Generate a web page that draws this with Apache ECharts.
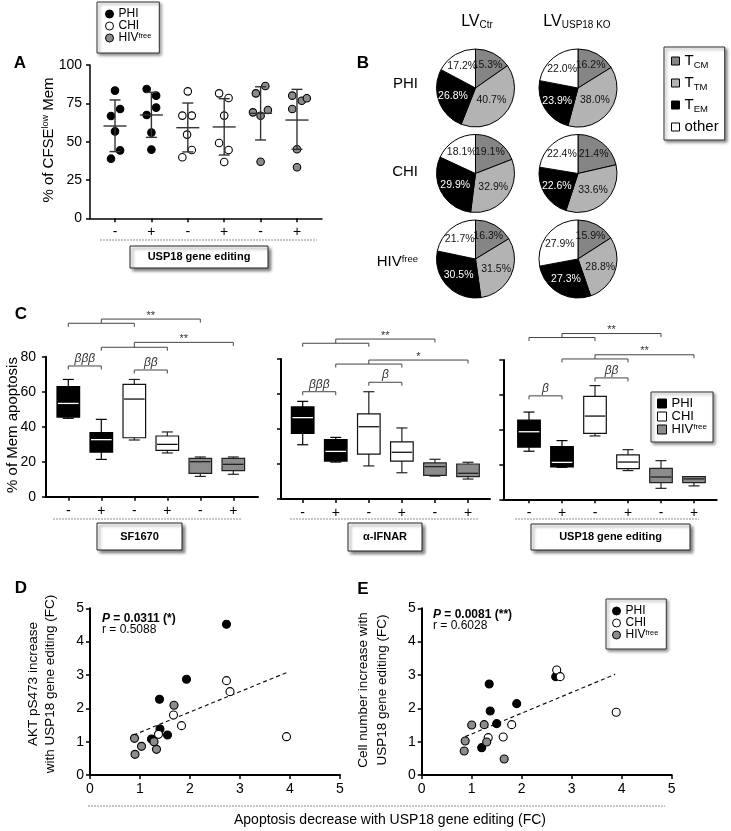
<!DOCTYPE html>
<html><head><meta charset="utf-8">
<script src="https://cdn.jsdelivr.net/npm/echarts@6/dist/echarts.min.js"></script>
<style>html,body{margin:0;padding:0;background:#fff}#c{width:731px;height:831px}</style>
</head><body><div id="c"></div>
<script>
// ================= DATA =================
const conditionLabels = ['-', '+', '-', '+', '-', '+'];
const conditionTicks = [1, 2, 3, 4, 5, 6];

// Panel A: % of CFSE-low memory cells  [condition position (with jitter), %]
const aPHI = [[1.0,83.3],[1.14,71.3],[0.89,66.7],[1.0,56.7],[1.14,44.3],[0.89,38.9],
              [1.87,84.3],[2.13,80.0],[2.13,72.2],[1.87,67.4],[2.0,55.9],[2.0,44.8]];
const aCHI = [[3.0,82.8],[2.85,67.0],[3.11,67.0],[2.98,54.6],[3.11,44.6],[2.85,39.8],
              [3.86,81.5],[4.12,78.5],[4.0,67.0],[3.86,49.1],[4.12,44.6],[4.0,36.7]];
const aHIV = [[5.13,86.3],[4.87,81.5],[4.79,69.1],[5.2,70.6],[5.0,66.9],[5.0,36.9],
              [5.87,80.0],[6.13,76.7],[6.27,78.3],[5.87,71.3],[6.0,45.0],[6.0,33.3]];
const aMean   = [60.2, 67.4, 59.1, 59.6, 68.5, 64.1];
const aSdLow  = [43.5, 52.8, 43.3, 41.3, 51.1, 45.0];
const aSdHigh = [77.2, 82.2, 75.2, 78.0, 85.8, 84.1];

// Panel B: memory subsets (%)  order: TCM, TTM, TEM, other
const subsets = ['TCM', 'TTM', 'TEM', 'other'];
const pieCtrPHI = [15.3, 40.7, 26.8, 17.2];
const pieKoPHI  = [16.2, 38.0, 23.9, 22.0];
const pieCtrCHI = [19.1, 32.9, 29.9, 18.1];
const pieKoCHI  = [21.4, 33.6, 22.6, 22.4];
const pieCtrHIV = [16.3, 31.5, 30.5, 21.7];
const pieKoHIV  = [15.9, 28.8, 27.3, 27.9];

// Panel C: % of Mem apoptosis, boxes [min, Q1, median, Q3, max] for conditions 1..6
const cSF1670 = [[44.8,45.5,53.3,62.9,67.0],[21.3,25.5,32.6,36.6,44.2],
                 [32.4,33.7,55.8,64.2,67.0],[25.0,26.5,29.9,34.7,37.0],
                 [11.6,13.3,20.0,21.9,22.7],[12.8,14.9,18.5,21.9,22.7]];
const cIFNAR  = [[31.0,37.5,46.5,52.6,55.8],[21.1,21.7,27.2,33.9,35.2],
                 [18.9,25.7,41.3,48.6,61.3],[15.0,21.7,26.7,32.6,40.6],
                 [13.1,13.5,18.5,20.6,22.7],[11.4,12.8,14.7,20.0,21.0]];
const cUSP18  = [[27.6,30.0,38.8,45.5,50.1],[18.4,18.6,21.2,30.2,33.7],
                 [36.4,37.9,47.8,59.1,65.3],[16.5,17.6,21.4,25.5,28.5],
                 [6.3,9.6,12.8,17.8,22.2],[7.7,9.6,11.7,13.0,13.0]];
// significance brackets: [fromCond, toCond, farCond|null, level, upperLevel|null, label]
const sigSF1670 = [[1,3,5,99.1,101.5,'**'],[2,4,6,85.4,88.2,'**'],[1,2,null,74.7,null,'βββ'],[3,4,null,72.4,null,'ββ']];
const sigIFNAR  = [[1,3,5,89.0,91.4,'**'],[2,4,6,77.1,79.4,'*'],[1,2,null,61.3,null,'βββ'],[3,4,null,66.7,null,'β']];
const sigUSP18  = [[1,3,5,92.9,95.2,'**'],[2,4,6,80.6,83.0,'**'],[1,2,null,59.4,null,'β'],[3,4,null,69.7,null,'ββ']];

// Panel D: [apoptosis decrease FC, AKT pS473 increase FC]
const dPHI = [[2.73,4.52],[1.93,2.87],[1.39,2.27],[1.40,1.38],[1.55,1.20],[1.23,1.08]];
const dCHI = [[2.73,2.83],[2.80,2.50],[1.67,1.80],[1.83,1.48],[1.37,1.22],[3.93,1.15]];
const dHIV = [[1.68,2.09],[0.89,1.10],[1.03,0.86],[1.28,1.00],[1.33,0.77],[0.90,0.62]];
const dFit = [[0.87,1.20],[3.93,3.07]];
const dStats = ['0.0311', '*', '0.5088'];
// Panel E: [apoptosis decrease FC, cell number increase FC]
const ePHI = [[1.35,2.73],[1.37,1.92],[1.90,2.14],[1.50,1.54],[1.20,0.82],[2.68,2.95]];
const eCHI = [[2.70,3.15],[2.77,2.95],[1.80,1.51],[1.33,1.12],[1.63,1.14],[3.89,1.88]];
const eHIV = [[1.00,1.50],[1.25,1.51],[0.87,1.02],[1.30,0.99],[0.85,0.72],[1.65,0.48]];
const eFit = [[0.87,1.15],[3.87,3.02]];
const eStats = ['0.0081', '**', '0.6028'];

// ================= STYLE / LAYOUT =================
const FONT = "'Liberation Sans', Arial, Helvetica, sans-serif";
const GRAY = '#8c8c8c';
const groupStyle = {
  PHI: {color:'#000', border:'#000', median:'#fff'},
  CHI: {color:'#fff', border:'#111', median:'#111'},
  HIVfree: {color:GRAY, border:'#222', median:'#222'}
};
const subsetColor = {TCM:'#858585', TTM:'#b3b3b3', TEM:'#000', other:'#fff'};

const chart = echarts.init(document.getElementById('c'), null, {renderer:'canvas', width:731, height:831});

function condX(gi, min, max, lw) {
  return {type:'value', gridIndex:gi, min, max,
    axisLine:{show:true, onZero:false, lineStyle:{color:'#000', width:lw}},
    axisTick:{show:true, customValues:conditionTicks, length:4, lineStyle:{color:'#000', width:1.5}},
    axisLabel:{show:true, customValues:conditionTicks, formatter:v => conditionLabels[Math.round(v)-1],
      fontSize:14, color:'#000', margin:7, fontFamily:FONT},
    splitLine:{show:false}};
}
function valAx(gi, min, max, interval, showLabel, lw, margin) {
  return {type:'value', gridIndex:gi, min, max, interval,
    axisLine:{show:true, onZero:false, lineStyle:{color:'#000', width:lw}},
    axisTick:{show:true, length:4, lineStyle:{color:'#000', width:1.5}},
    axisLabel:{show:showLabel, fontSize:14, color:'#000', margin:margin, fontFamily:FONT},
    splitLine:{show:false}};
}

function errRender(params, api) {
  const x = api.value(0);
  const pm = api.coord([x, api.value(1)]), pl = api.coord([x, api.value(2)]), ph = api.coord([x, api.value(3)]);
  const st = {stroke:'#333', lineWidth:1.4};
  const cw = 5.5, mw = 11.5;
  return {type:'group', children:[
    {type:'line', shape:{x1:pl[0], y1:pl[1], x2:ph[0], y2:ph[1]}, style:st},
    {type:'line', shape:{x1:ph[0]-cw, y1:ph[1], x2:ph[0]+cw, y2:ph[1]}, style:st},
    {type:'line', shape:{x1:pl[0]-cw, y1:pl[1], x2:pl[0]+cw, y2:pl[1]}, style:st},
    {type:'line', shape:{x1:pm[0]-mw, y1:pm[1], x2:pm[0]+mw, y2:pm[1]}, style:st}
  ]};
}
function boxRender(g) {
  const s = groupStyle[g];
  return function(params, api) {
    const x = api.value(0);
    const p = [1,2,3,4,5].map(k => api.coord([x, api.value(k)]));
    const cx = p[0][0], hw = 11.3, cw = 5.5;
    const ln = {stroke:s.border === '#000' ? '#000' : '#222', lineWidth:1.2};
    return {type:'group', children:[
      {type:'line', shape:{x1:cx, y1:p[0][1], x2:cx, y2:p[1][1]}, style:ln},
      {type:'line', shape:{x1:cx, y1:p[3][1], x2:cx, y2:p[4][1]}, style:ln},
      {type:'line', shape:{x1:cx-cw, y1:p[0][1], x2:cx+cw, y2:p[0][1]}, style:ln},
      {type:'line', shape:{x1:cx-cw, y1:p[4][1], x2:cx+cw, y2:p[4][1]}, style:ln},
      {type:'rect', shape:{x:cx-hw, y:p[3][1], width:hw*2, height:p[1][1]-p[3][1]},
        style:{fill:s.color, stroke:s.border, lineWidth:1.2}},
      {type:'line', shape:{x1:cx-hw+1, y1:p[2][1], x2:cx+hw-1, y2:p[2][1]}, style:{stroke:s.median, lineWidth:1.3}}
    ]};
  };
}
function bracketRender(sig) {
  return function(params, api) {
    const [xa, xb, xc, yLo, yHi, lab] = sig[params.dataIndex];
    const drop = 3.5;
    const st = {stroke:'#444', lineWidth:1, fill:'none'};
    const p1 = api.coord([xa, yLo]), p2 = api.coord([xb, yLo]);
    const ch = [{type:'polyline', shape:{points:[[p1[0],p1[1]+drop],[p1[0],p1[1]],[p2[0],p2[1]],[p2[0],p2[1]+drop]]}, style:st}];
    let tx, ty, isBeta = lab.indexOf('β') >= 0;
    if (xc !== null) {
      const xm = (xa + xb) / 2;
      const pm = api.coord([xm, yLo]), ph = api.coord([xm, yHi]), pe = api.coord([xc, yHi]);
      ch.push({type:'polyline', shape:{points:[[pm[0],pm[1]],[ph[0],ph[1]],[pe[0],pe[1]],[pe[0],pe[1]+drop]]}, style:st});
      tx = (ph[0] + pe[0]) / 2; ty = ph[1];
    } else { tx = (p1[0] + p2[0]) / 2; ty = p1[1]; }
    ch.push({type:'text', x:tx, y:isBeta ? ty - 1.5 : ty + 2,
      style:{text:lab, fill:'#333', fontSize:isBeta ? 12 : 11, fontStyle:isBeta ? 'italic' : 'normal',
        fontFamily:FONT, align:'center', verticalAlign:'bottom', textAlign:'center', textVerticalAlign:'bottom'}});
    return {type:'group', children:ch};
  };
}

const series = [];
// ---- Panel A ----
[['PHI', aPHI], ['CHI', aCHI], ['HIVfree', aHIV]].forEach(([g, d]) => {
  series.push({type:'scatter', name:g, xAxisIndex:0, yAxisIndex:0, data:d, symbolSize:7.5, z:3,
    itemStyle:{color:groupStyle[g].color, borderColor:'#000', borderWidth:1.1, opacity:1}, emphasis:{disabled:true}});
});
series.push({type:'custom', name:'meanSD', xAxisIndex:0, yAxisIndex:0, z:4, renderItem:errRender,
  encode:{x:0, y:[1,2,3]},
  data:aMean.map((m, i) => [conditionTicks[i], m, aSdLow[i], aSdHigh[i]])});

// ---- Panel B (pies) ----
const PIE_R = 39;
const pieLayout = [
  {vals:pieCtrPHI, center:[475.5, 88]}, {vals:pieKoPHI, center:[578, 88]},
  {vals:pieCtrCHI, center:[475.5, 173.5]}, {vals:pieKoCHI, center:[578, 173.5]},
  {vals:pieCtrHIV, center:[475.5, 259]}, {vals:pieKoHIV, center:[578, 259]}
];
// label placed at the centroid of each slice
function centroidLayout(vals, center) {
  const total = vals.reduce((a, b) => a + b, 0);
  return function(params) {
    const i = params.dataIndex;
    let cum = 0;
    for (let k = 0; k < i; k++) cum += vals[k];
    const th = vals[i] / total * 2 * Math.PI;
    const mid = Math.PI / 2 - (cum / total * 2 * Math.PI + th / 2);
    const d = Math.min(0.72, 4 * Math.sin(th / 2) / (3 * th) * 1.04) * PIE_R;
    return {x:center[0] + d * Math.cos(mid), y:center[1] - d * Math.sin(mid),
      align:'center', verticalAlign:'middle', hideOverlap:false};
  };
}
pieLayout.forEach(pl => {
  series.push({type:'pie', center:pl.center, radius:PIE_R, startAngle:90, clockwise:true,
    avoidLabelOverlap:false, animation:false, emphasis:{disabled:true}, z:3,
    itemStyle:{borderColor:'#000', borderWidth:1},
    label:{show:true, position:'inside', fontSize:10.5, fontFamily:FONT,
      formatter:p => p.value.toFixed(1) + '%'},
    labelLine:{show:false},
    labelLayout:centroidLayout(pl.vals, pl.center),
    data:pl.vals.map((v, i) => ({name:subsets[i], value:v,
      itemStyle:{color:subsetColor[subsets[i]]},
      label:{color:subsets[i] === 'TEM' ? '#fff' : '#111'}}))});
});

// ---- Panel C ----
[[cSF1670, sigSF1670], [cIFNAR, sigIFNAR], [cUSP18, sigUSP18]].forEach(([boxes, sig], k) => {
  const gi = k + 1;
  [['PHI', [0,1]], ['CHI', [2,3]], ['HIVfree', [4,5]]].forEach(([g, idx]) => {
    series.push({type:'custom', name:g, xAxisIndex:gi, yAxisIndex:gi, renderItem:boxRender(g), z:3,
      encode:{x:0, y:[1,2,3,4,5]},
      data:idx.map(i => [conditionTicks[i], ...boxes[i]])});
  });
  series.push({type:'custom', name:'sig' + gi, xAxisIndex:gi, yAxisIndex:gi, renderItem:bracketRender(sig),
    clip:false, encode:{x:0, y:1}, data:sig.map(s => [s[0], s[3]])});
});

// ---- Panels D & E ----
[[4, dPHI, dCHI, dHIV, dFit], [5, ePHI, eCHI, eHIV, eFit]].forEach(([gi, p, c, h, fit]) => {
  series.push({type:'line', name:'fit' + gi, xAxisIndex:gi, yAxisIndex:gi, data:fit, symbol:'none', z:2,
    lineStyle:{color:'#111', width:1.2, type:[4, 3]}, emphasis:{disabled:true}});
  [['PHI', p], ['CHI', c], ['HIVfree', h]].forEach(([g, d]) => {
    series.push({type:'scatter', name:g, xAxisIndex:gi, yAxisIndex:gi, data:d, symbolSize:8, z:3,
      itemStyle:{color:groupStyle[g].color, borderColor:'#000', borderWidth:1.1, opacity:1}, emphasis:{disabled:true}});
  });
});

// ---- Legends ----
const groupFmt = n => n === 'HIVfree' ? 'HIV{sup|free}' : n;
const subsetFmt = n => ({TCM:'T{sub|CM}', TTM:'T{sub|TM}', TEM:'T{sub|EM}', other:'other'})[n];
const legendBase = {orient:'vertical', selectedMode:false, backgroundColor:'#fff', borderColor:'#333', borderWidth:1,
  borderRadius:0, shadowColor:'rgba(0,0,0,0.45)', shadowBlur:3, shadowOffsetX:2, shadowOffsetY:2};
function groupLegend(left, top, icon, size, fs, lh, pad) {
  return Object.assign({}, legendBase, {left, top, itemWidth:size, itemHeight:size, itemGap:0, padding:pad,
    formatter:groupFmt,
    textStyle:{fontSize:fs, lineHeight:lh, color:'#000', fontFamily:FONT,
      rich:{sup:{fontSize:fs*0.62, lineHeight:fs*0.62, verticalAlign:'top', fontFamily:FONT, color:'#000'}}},
    data:['PHI', 'CHI', 'HIVfree'].map(g => ({name:g, icon,
      itemStyle:{color:groupStyle[g].color, borderColor:'#000', borderWidth:1}}))});
}
const legends = [
  groupLegend(97, 2, 'circle', 8, 12, 11.5, [6, 8, 9, 8]),
  Object.assign({}, legendBase, {left:664, top:47, itemWidth:8, itemHeight:8, itemGap:4, padding:[5, 6, 4, 7],
    formatter:subsetFmt,
    textStyle:{fontSize:15, lineHeight:18, color:'#000', fontFamily:FONT,
      rich:{sub:{fontSize:9.5, lineHeight:9.5, verticalAlign:'bottom', fontFamily:FONT, color:'#000'}}},
    data:subsets.map(s => ({name:s, icon:'rect', itemStyle:{color:subsetColor[s], borderColor:'#000', borderWidth:1}}))}),
  groupLegend(651, 392, 'rect', 9, 13, 12.5, [5, 6, 6, 6]),
  groupLegend(606, 599, 'circle', 8, 12, 10.5, [6, 8, 8, 6])
];

// ---- Annotation graphics ----
function T(x, y, text, size, o) {
  o = o || {};
  return {type:'text', x, y, rotation:o.rot || 0, silent:true, z:10,
    style:{text, fill:'#000', fontSize:size, fontFamily:FONT, fontWeight:o.w || 'normal', fontStyle:o.st || 'normal',
      align:o.a || 'center', verticalAlign:'middle', textAlign:o.a || 'center', textVerticalAlign:'middle', rich:o.rich}};
}
function labelBox(x, y, w, h, text) {
  return [
    {type:'rect', shape:{x, y, width:w, height:h}, z:9, silent:true,
      style:{fill:'#fff', stroke:'#222', lineWidth:1, shadowBlur:3, shadowOffsetX:2.5, shadowOffsetY:2.5, shadowColor:'rgba(0,0,0,0.5)'}},
    T(x + w / 2, y + h / 2, text, 11, {w:'bold'})
  ];
}
function dash(x1, x2, y) {
  return {type:'line', shape:{x1, y1:y, x2, y2:y}, silent:true, z:9, style:{stroke:'#b5b5b5', lineWidth:1.5, lineDash:[2, 1]}};
}
const supRich = s => ({sup:{fontSize:s, fontFamily:FONT, verticalAlign:'top', lineHeight:s}});
const subRich = s => ({sub:{fontSize:s, fontFamily:FONT, verticalAlign:'bottom', lineHeight:s}});
const R90 = Math.PI / 2;
const statRich = {bi:{fontSize:12, fontWeight:'bold', fontStyle:'italic', fontFamily:FONT},
                  b:{fontSize:12, fontWeight:'bold', fontFamily:FONT}};
const graphics = [
  T(20, 63, 'A', 17, {w:'bold'}), T(363, 63, 'B', 17, {w:'bold'}), T(21, 314, 'C', 17, {w:'bold'}),
  T(21, 588, 'D', 17, {w:'bold'}), T(363, 589, 'E', 17, {w:'bold'}),
  T(49, 140, '% of CFSE{sup|low} Mem', 15, {rot:R90, rich:supRich(9)}),
  dash(100, 317, 240), ...labelBox(130, 246, 138, 22, 'USP18 gene editing'),
  T(477, 22, 'LV{sub|Ctr}', 16, {rich:subRich(10)}), T(577, 22, 'LV{sub|USP18 KO}', 16, {rich:subRich(10)}),
  T(418, 84, 'PHI', 15, {a:'right'}), T(418, 172, 'CHI', 15, {a:'right'}),
  T(418, 262, 'HIV{sup|free}', 15, {a:'right', rich:supRich(9.5)}),
  T(13, 425, '% of Mem apoptosis', 15, {rot:R90}),
  dash(53, 242, 519), dash(290, 478, 519), dash(515, 699, 519),
  ...labelBox(97, 523, 85, 27, 'SF1670'), ...labelBox(348, 523, 74, 28, 'α-IFNAR'),
  ...labelBox(531, 524, 159, 26, 'USP18 gene editing'),
  T(33, 684, 'AKT pS473 increase', 13.5, {rot:R90}), T(50, 684, 'with USP18 gene editing (FC)', 13.5, {rot:R90}),
  T(363, 690, 'Cell number increase with', 13.5, {rot:R90}), T(382, 690, 'USP18 gene editing (FC)', 13.5, {rot:R90}),
  T(102, 619, '{bi|P}{b| = ' + dStats[0] + ' (' + dStats[1] + ')}', 12, {a:'left', rich:statRich}),
  T(102, 630, 'r = ' + dStats[2], 12, {a:'left'}),
  T(433, 615, '{bi|P}{b| = ' + eStats[0] + ' (' + eStats[1] + ')}', 12, {a:'left', rich:statRich}),
  T(433, 626, 'r = ' + eStats[2], 12, {a:'left'}),
  dash(88, 665, 806), T(390, 820, 'Apoptosis decrease with USP18 gene editing (FC)', 14)
];

const grids = [
  {left:90, top:65, width:232, height:153.3},      // A
  {left:46, top:356.7, width:212, height:140},     // C1
  {left:281, top:359, width:209, height:140},      // C2
  {left:503.3, top:360, width:213.4, height:139.3},// C3
  {left:90, top:608.3, width:250, height:166.7},   // D
  {left:421.7, top:608.3, width:250, height:166.7} // E
].map(g => Object.assign(g, {containLabel:false, outerBoundsMode:'none', show:false}));

const option = {
  animation:false,
  backgroundColor:'#fff',
  textStyle:{fontFamily:FONT},
  grid:grids,
  xAxis:[
    condX(0, 0.313, 6.687, 1.5), condX(1, 0.324, 6.748, 2), condX(2, 0.344, 6.665, 2), condX(3, 0.221, 6.688, 2),
    valAx(4, 0, 5, 1, true, 2, 7), valAx(5, 0, 5, 1, true, 2, 7)
  ],
  yAxis:[
    valAx(0, 0, 100, 25, true, 1.5, 8), valAx(1, 0, 80, 20, true, 2, 10),
    valAx(2, 0, 80, 20, false, 2, 8), valAx(3, 0, 80, 20, false, 2, 8),
    valAx(4, 0, 5, 1, true, 2, 6), valAx(5, 0, 5, 1, true, 2, 6)
  ],
  legend:legends,
  series,
  graphic:{elements:graphics}
};
chart.setOption(option);
</script></body></html>
